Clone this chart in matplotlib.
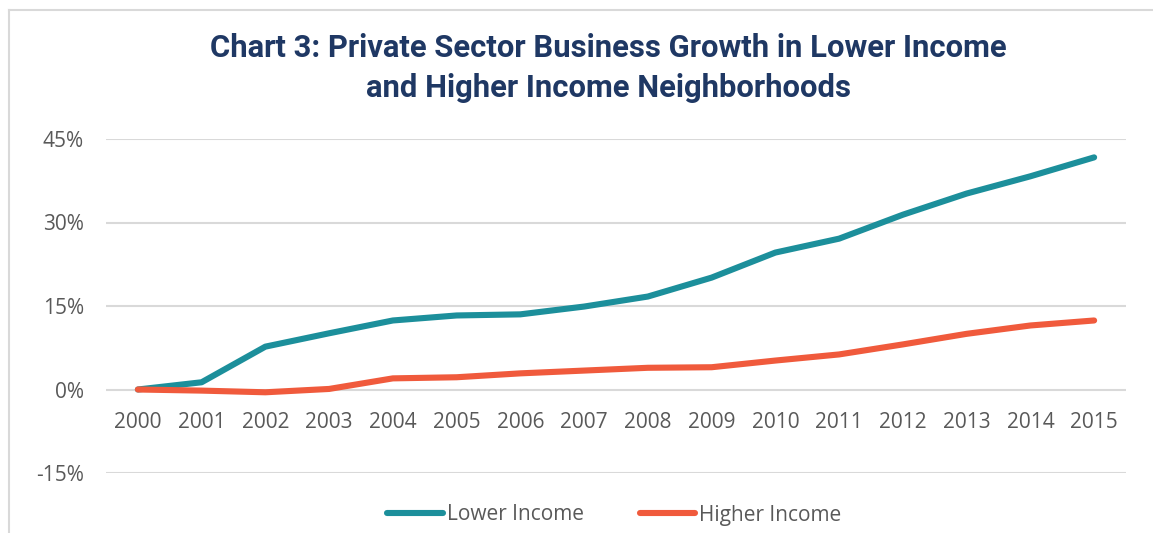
import matplotlib
matplotlib.use("Agg")
from matplotlib import pyplot as plt
from matplotlib.lines import Line2D
from matplotlib.ticker import FuncFormatter

# growth since 2000, in percent
years = list(range(2000, 2016))
lower_income = [0, 1.3, 7.7, 10.1, 12.4, 13.3, 13.5, 14.9, 16.7, 20.1, 24.6, 27.1, 31.4, 35.2, 38.3, 41.7]
higher_income = [0, -0.2, -0.5, 0.1, 2.0, 2.2, 2.9, 3.4, 3.9, 4.0, 5.2, 6.3, 8.1, 10.0, 11.5, 12.4]
y_ticks = [-15, 0, 15, 30, 45]

teal = '#1C8F9B'
orange = '#F05A3C'
grey_text = '#595959'
grid_col = '#D9D9D9'

plt.rcParams['font.family'] = ['Open Sans', 'DejaVu Sans']

fig = plt.figure(figsize=(11.53, 5.33), dpi=100)
ax = fig.add_axes([106 / 1153, 1 - 473 / 533, 1020 / 1153, 334 / 533])

ax.plot(years, lower_income, color=teal, lw=4.4, solid_capstyle='round', solid_joinstyle='round', label='Lower Income', zorder=3)
ax.plot(years, higher_income, color=orange, lw=4.4, solid_capstyle='round', solid_joinstyle='round', label='Higher Income', zorder=3)

ax.set_xlim(1999.5, 2015.5)
ax.set_ylim(-15, 45)
ax.set_yticks(y_ticks)
ax.yaxis.set_major_formatter(FuncFormatter(lambda v, p: f'{v:.0f}%'))
ax.set_xticks(years)
ax.grid(axis='y', color=grid_col, lw=1.5)
ax.set_axisbelow(True)

# year labels sit under the zero line
ax.spines['bottom'].set_position(('data', 0))
for s in ax.spines.values():
    s.set_visible(False)
ax.tick_params(axis='both', length=0, labelsize=15, colors=grey_text)
ax.tick_params(axis='x', pad=16)
ax.tick_params(axis='y', pad=16)

fig.text(0.528, 1 - 68 / 533, 'Chart 3: Private Sector Business Growth in Lower Income\nand Higher Income Neighborhoods',
         ha='center', va='center', fontsize=22.3, fontweight='bold', color='#1F3864',
         family=['Roboto', 'DejaVu Sans'], linespacing=1.45)

leg = fig.legend(loc='center', bbox_to_anchor=(0.533, 1 - 515 / 533), ncol=2, frameon=False,
                 fontsize=15, handlelength=2.65, handletextpad=0.2, columnspacing=2.7)
for t in leg.get_texts():
    t.set_color(grey_text)

# light frame round the chart area
fig.add_artist(Line2D([9 / 1153, 1], [1 - 9.5 / 533] * 2, color=grid_col, lw=1.5))
fig.add_artist(Line2D([9 / 1153] * 2, [0, 1 - 9.5 / 533], color=grid_col, lw=1.5))

plt.savefig('out.png', dpi=100)
